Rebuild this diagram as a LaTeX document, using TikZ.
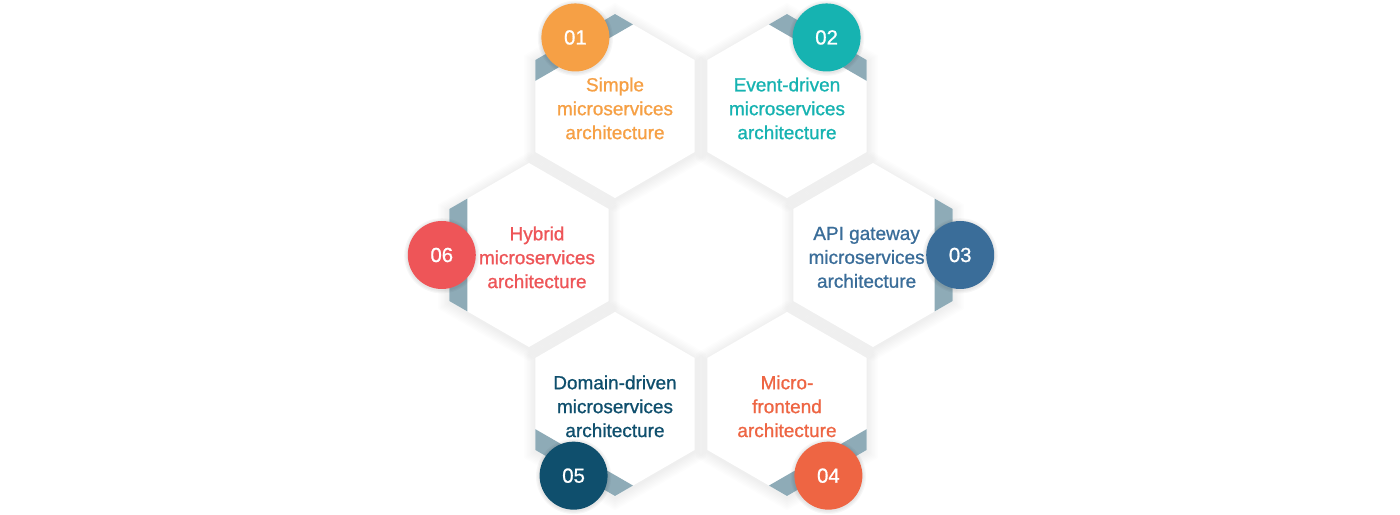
\documentclass[tikz,border=0pt]{standalone}
\usepackage{fontspec}
\setmainfont{Liberation Sans}
\newfontfamily\medfont{Liberation Sans}[FakeBold=0.9]
\usetikzlibrary{calc}
\definecolor{cone}{HTML}{F6A045}
\definecolor{ctwo}{HTML}{16B3B1}
\definecolor{cthree}{HTML}{3A6D99}
\definecolor{cfour}{HTML}{EE6543}
\definecolor{cfive}{HTML}{0F4F6D}
\definecolor{csix}{HTML}{EE5558}
\definecolor{bandgray}{HTML}{8EABB7}
\begin{document}
\begin{tikzpicture}[
	numdot/.style={circle,minimum size=1.7cm,inner sep=0pt,text=white,font=\medfont\fontsize{14.5}{16}\selectfont},
	lbl/.style={align=center,font=\medfont\fontsize{13.5}{17}\selectfont},
	band/.style={fill=bandgray}]
	
	\def\R{2.3} %hexagon radius
	\def\D{4.3} %ring radius
	\def\bw{0.52} %band width along side
	\useasboundingbox[fill=white] (-17.525,-6.5) rectangle (17.475,6.375);
	% soft shadows
	\foreach \ang in {0,60,...,300}
	\foreach \s in {0.04,0.08,...,0.36}
	\fill[black,opacity=0.006] ($(\ang:\D)+(0,-0.04)+(30:{\R+\s})$) -- ++(150:{\R+\s}) -- ++(210:{\R+\s}) -- ++(270:{\R+\s}) -- ++(330:{\R+\s}) -- ++(30:{\R+\s}) -- cycle;
	% hexagons
	\foreach \ang/\num/\col/\dd/\sh/\txt in {
		120/01/cone/1.98/0/{Simple\\microservices\\architecture},
		60/02/ctwo/1.98/0/{Event-driven\\microservices\\architecture},
		0/03/cthree/2.18/-0.16/{API gateway\\microservices\\architecture},
		300/04/cfour/2.07/0/{Micro-\\frontend\\architecture},
		240/05/cfive/2.07/0/{Domain-driven\\microservices\\architecture},
		180/06/csix/2.18/-0.2/{Hybrid\\microservices\\architecture}}{
		\coordinate (h\num) at (\ang:\D);
		\fill[white] ($(h\num)+(30:\R)$) -- ++(150:\R) -- ++(210:\R) -- ++(270:\R) -- ++(330:\R) -- ++(30:\R) -- cycle;
		\fill[band] ($(h\num)+({\ang+30}:\R)$) -- ++({\ang-90}:\R) -- ++({\ang-150}:\bw) -- ($(h\num)+({\ang+30}:\R)+({\ang+150}:\bw)$) -- cycle;
		\node[lbl,text=\col] (t\num) at ($(h\num)+(\ang:\sh)+(0,-0.06)$) {\txt};
		\foreach \s in {0.03,0.06,0.09}
		\fill[black,opacity=0.03] ($(h\num)+(\ang:\dd)+(0,-0.02)$) circle ({0.85+\s});
		\node[numdot,fill=\col] (n\num) at ($(h\num)+(\ang:\dd)$) {\num};
	}
	
\end{tikzpicture}
\end{document}
